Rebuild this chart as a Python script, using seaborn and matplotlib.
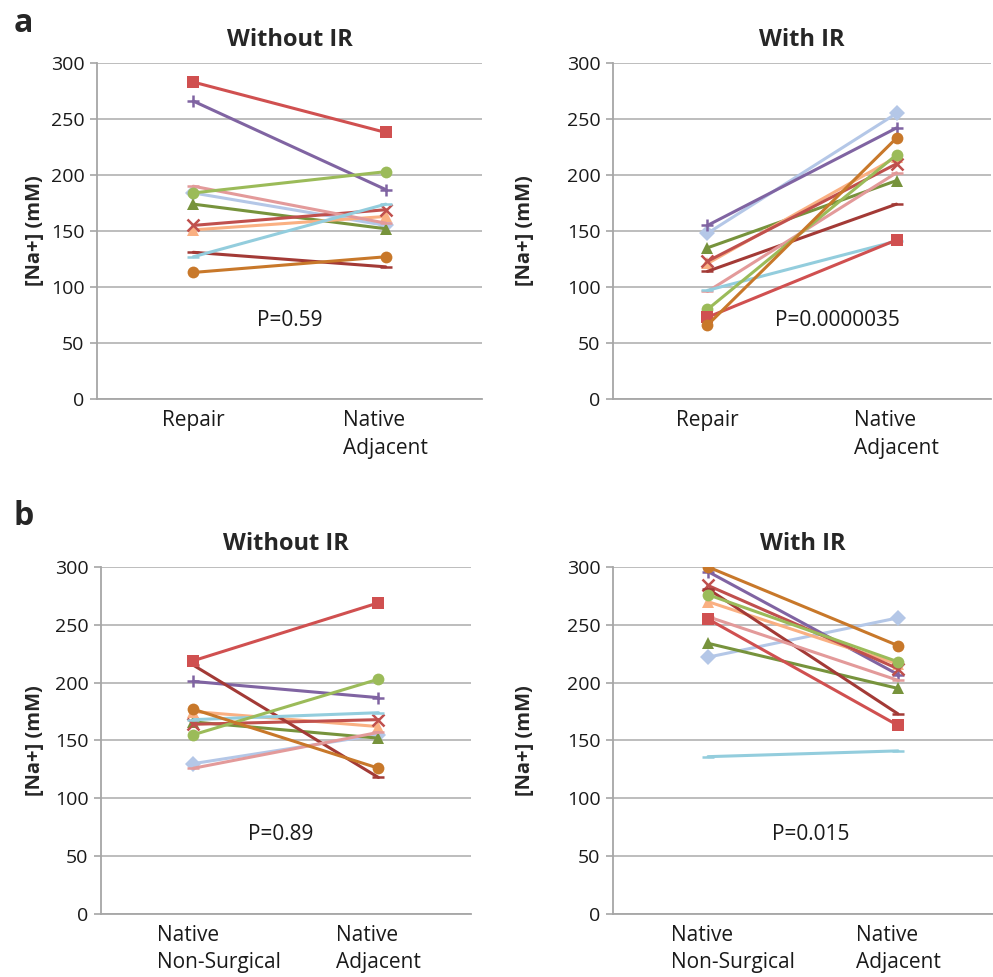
import matplotlib
matplotlib.use("Agg")
import matplotlib.pyplot as plt
import matplotlib.transforms as mtransforms
import seaborn as sns
import pandas as pd

# series order: lt blue diamond, purple plus, dk green tri, lt orange, dk red x,
# dk red line, pink, aqua, lt green circle, red square, orange circle
series_names = ["s1", "s2", "s3", "s4", "s5", "s6", "s7", "s8", "s9", "s10", "s11"]
series_colors = ["#B4C7E7", "#8064A2", "#77933C", "#FAB082", "#C0504D",
                 "#A33A36", "#E39A9A", "#93CDDD", "#9BBB59", "#D05050", "#C8782A"]
series_markers = ["D", "+", "^", "^", "x", "_", "_", "_", "o", "s", "o"]

cats_repair = ["Repair", "Native\nAdjacent"]
cats_native = ["Native\nNon-Surgical", "Native\nAdjacent"]

# a: Without IR
a_wo_first = [184, 266, 174, 151, 155, 131, 190, 127, 184, 283, 113]
a_wo_second = [155, 187, 152, 163, 169, 118, 157, 174, 203, 238, 127]
# a: With IR
a_w_first = [148, 155, 135, 121, 123, 114, 96, 97, 80, 73, 66]
a_w_second = [255, 242, 195, 216, 210, 174, 202, 141, 218, 142, 233]
# b: Without IR
b_wo_first = [130, 201, 166, 175, 164, 215, 126, 168, 155, 219, 177]
b_wo_second = [155, 187, 152, 162, 168, 118, 157, 174, 203, 269, 126]
# b: With IR
b_w_first = [222, 296, 234, 270, 284, 281, 257, 136, 276, 255, 300]
b_w_second = [256, 207, 195, 216, 212, 173, 202, 141, 218, 163, 232]

p_texts = ["P=0.59", "P=0.0000035", "P=0.89", "P=0.015"]
p_pos = [(0.5, 70), (0.69, 70), (0.47, 69), (0.54, 69)]

sns.set_style("white")
plt.rcParams["font.family"] = ["Open Sans", "DejaVu Sans"]

fig = plt.figure(figsize=(9.93, 9.77), dpi=100)
axes_rect = [
    [0.0977, 0.5916, 0.3877, 0.3439],
    [0.6173, 0.5916, 0.3807, 0.3439],
    [0.1017, 0.0645, 0.3726, 0.3552],
    [0.6173, 0.0645, 0.3827, 0.3552],
]
panels = [
    ("Without IR", cats_repair, a_wo_first, a_wo_second, -0.135),
    ("With IR", cats_repair, a_w_first, a_w_second, -0.206),
    ("Without IR", cats_native, b_wo_first, b_wo_second, -0.151),
    ("With IR", cats_native, b_w_first, b_w_second, -0.205),
]

for i, (title, cats, first, second, ylab_x) in enumerate(panels):
    ax = fig.add_axes(axes_rect[i])
    for j, name in enumerate(series_names):
        df = pd.DataFrame({"cat": cats, "val": [first[j], second[j]]})
        mk = series_markers[j]
        filled = mk in ("D", "^", "o", "s")
        sns.lineplot(data=df, x="cat", y="val", ax=ax, color=series_colors[j],
                     linewidth=2.2, marker=mk, markersize=8.5 if filled else 9,
                     markeredgewidth=0 if filled else 1.8,
                     markeredgecolor=series_colors[j], sort=False, legend=False)
    ax.set_xlim(-0.5, 1.5)
    ax.set_ylim(0, 300)
    ax.set_yticks(range(0, 301, 50))
    ax.grid(axis="y", color="#B8B8B8", linewidth=1.3)
    ax.set_axisbelow(True)
    for s in ["top", "right"]:
        ax.spines[s].set_visible(False)
    for s in ["left", "bottom"]:
        ax.spines[s].set_color("#A6A6A6")
        ax.spines[s].set_linewidth(1.3)
    ax.tick_params(axis="y", left=True, length=5, width=1.2, color="#A6A6A6",
                   pad=4, labelsize=14, labelcolor="#1a1a1a")
    ax.tick_params(axis="x", length=0, pad=8, labelsize=15, labelcolor="#1a1a1a")
    for lbl in ax.get_xticklabels():
        lbl.set_linespacing(1.4)
        lbl.set_horizontalalignment("center")
        lbl.set_multialignment("left")
        if "Non-Surgical" in lbl.get_text():
            lbl.set_transform(lbl.get_transform() +
                              mtransforms.ScaledTranslation(0.25, 0, fig.dpi_scale_trans))
    ax.set_xlabel("")
    ax.set_ylabel("[Na+] (mM)", fontsize=14.5, fontweight="bold")
    ax.yaxis.set_label_coords(ylab_x, 0.5)
    ax.set_title(title, fontsize=17, fontweight="bold", pad=12)
    ax.text(p_pos[i][0], p_pos[i][1], p_texts[i], ha="center", va="center",
            fontsize=15, color="#1a1a1a")

fig.text(0.014, 0.976, "a", fontsize=23, fontweight="bold", va="center")
fig.text(0.014, 0.471, "b", fontsize=23, fontweight="bold", va="center")

fig.savefig("out.png", dpi=100)
